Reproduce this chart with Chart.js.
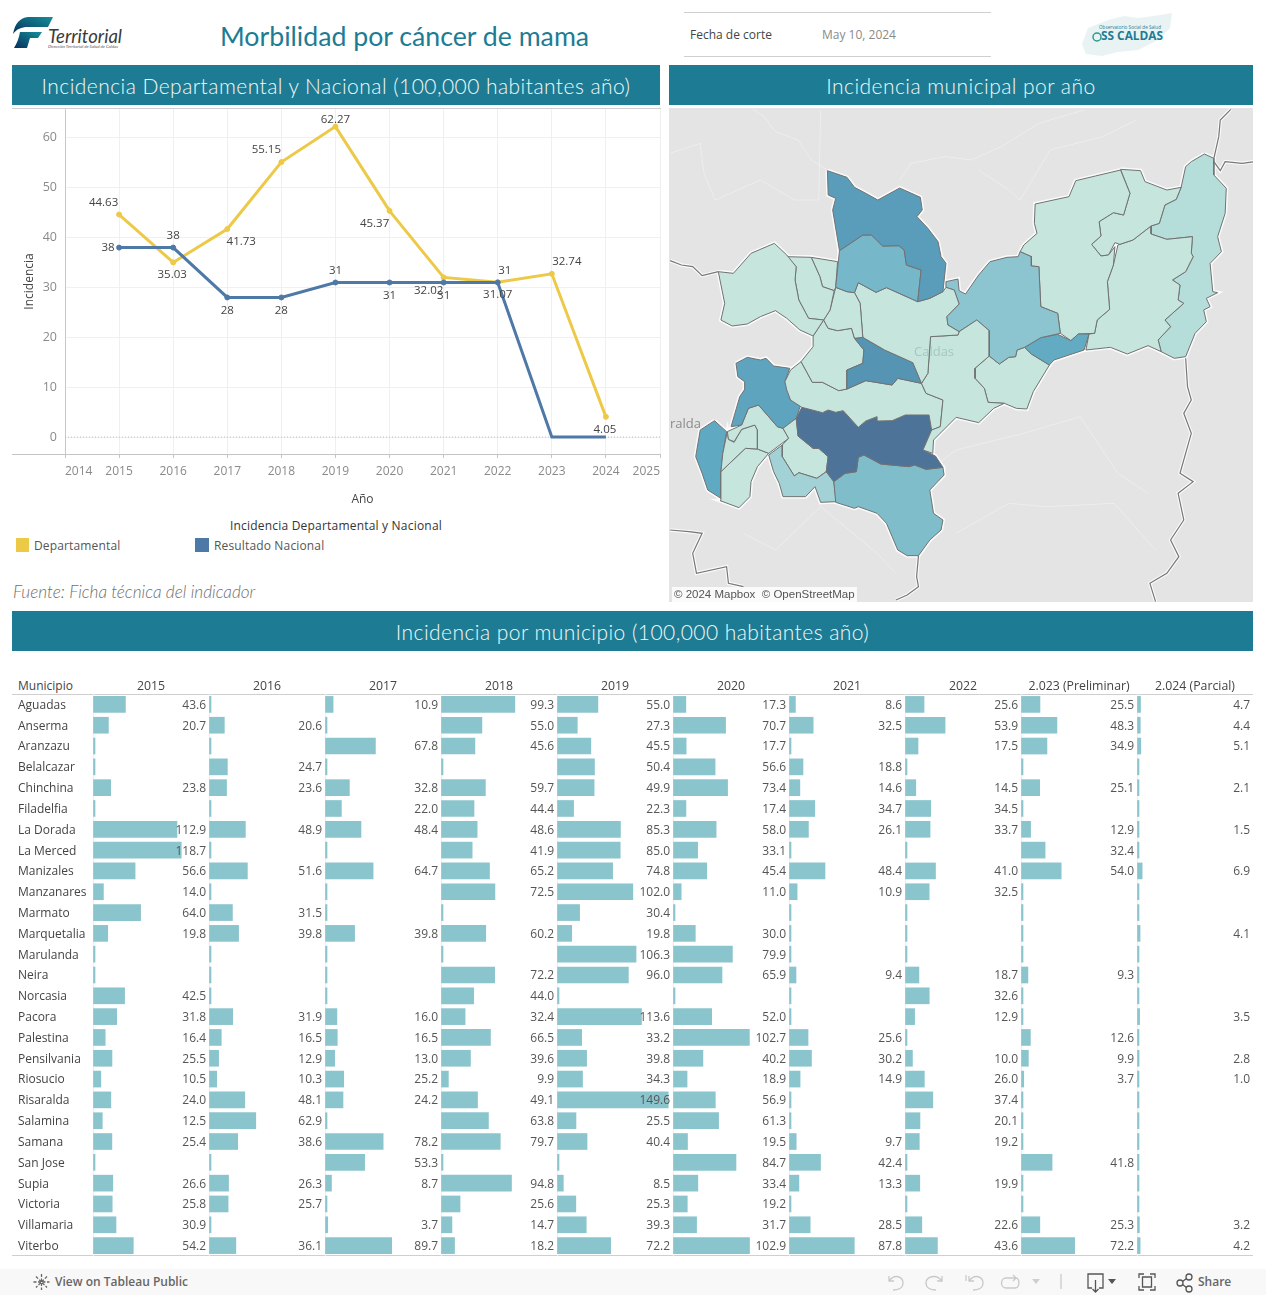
<!DOCTYPE html>
<html lang="es">
<head>
<meta charset="utf-8">
<title>Morbilidad por cáncer de mama</title>
<script src="https://cdn.jsdelivr.net/npm/chart.js@4"></script>
<style>
    html, body { margin: 0; padding: 0; background: #fff; }
    body { position: relative; width: 1266px; height: 1295px; overflow: hidden; font-family: "Open Sans", sans-serif; color: #555; }
    .abs { position: absolute; white-space: nowrap; }
    canvas { position: absolute; display: block; }
    .banda { position: absolute; background: #1d7c93; color: #f4f8f9; text-align: center; font-family: Lato, sans-serif; font-weight: 300; font-size: 21px; line-height: 42px; height: 40px; letter-spacing: 0.45px; }
    .linea { position: absolute; background: #cfcfcf; height: 1px; }
</style>
</head>
<body>

<!-- Encabezado -->
<svg class="abs" style="left:12px;top:14px" width="116" height="38" viewBox="0 0 116 38">
    <defs><linearGradient id="gradT" x1="0" x2="1" y1="1" y2="0"><stop offset="0" stop-color="#06305c"/><stop offset="1" stop-color="#16909a"/></linearGradient></defs>
    <path d="M1 20 C3 9 8 4 16 3 L41 3 L36 13 L16 13 C9 13 5 15 1 20 Z" fill="url(#gradT)"/>
    <path d="M8 18 L30 18 L26 24 L18 24 L15 34 L2 34 C5 29 7 24 8 18 Z" fill="url(#gradT)"/>
    <text x="36" y="29" font-family="Lato" font-style="italic" font-size="20" fill="#3a3a3a" textLength="74" lengthAdjust="spacingAndGlyphs">Territorial</text>
    <text x="36" y="34" font-family="Lato" font-style="italic" font-size="4" fill="#555" textLength="70" lengthAdjust="spacingAndGlyphs">Dirección Territorial de Salud de Caldas</text>
</svg>
<div class="abs" id="titulo" style="left:220px;top:18px;font-family:Lato,sans-serif;font-size:26.7px;line-height:36px;color:#1d7c93">Morbilidad por cáncer de mama</div>

<div class="linea" style="left:684px;top:12px;width:307px"></div>
<div class="linea" style="left:684px;top:56px;width:307px"></div>
<div class="abs" style="left:690px;top:27px;font-size:12px;line-height:16px;color:#444">Fecha de corte</div>
<div class="abs" style="left:822px;top:27px;font-size:12px;line-height:16px;color:#8a8a8a">May 10, 2024</div>

<svg class="abs" style="left:1078px;top:10px" width="100" height="50" viewBox="0 0 100 50">
    <path d="M4 34 L10 18 L30 10 L46 6 L60 8 L76 6 L94 3 L92 18 L80 30 L60 40 L40 42 L24 46 L8 44 Z" fill="#e9f3f3"/>
    <text x="21" y="19" font-family="Open Sans" font-size="5.2" fill="#1d7c93" textLength="62" lengthAdjust="spacingAndGlyphs">Observatorio Social de Salud</text>
    <circle cx="19" cy="27" r="4" fill="none" stroke="#2a9a8f" stroke-width="1.5"/>
    <text x="23" y="30" font-family="Open Sans" font-weight="700" font-size="13" fill="#1d7c93" textLength="62" lengthAdjust="spacingAndGlyphs">SS CALDAS</text>
</svg>

<div class="banda" style="left:12px;top:65px;width:648px">Incidencia Departamental y Nacional (100,000 habitantes año)</div>
<div class="banda" style="left:669px;top:65px;width:584px">Incidencia municipal por año</div>
<div class="banda" style="left:12px;top:611px;width:1241px">Incidencia por municipio (100,000 habitantes año)</div>

<!-- Grafico de lineas -->
<div class="linea" style="left:12px;top:108px;width:649px"></div>
<div class="linea" style="left:12px;top:454px;width:649px;background:#c4c4c4"></div>
<canvas id="grafico-lineas" style="left:12px;top:104px"></canvas>

<div class="abs" style="left:230px;top:518px;font-size:12px;line-height:16px;letter-spacing:.2px;color:#333">Incidencia Departamental y Nacional</div>
<div class="abs" style="left:16px;top:538px;width:13px;height:14px;background:#edc948"></div>
<div class="abs" style="left:34px;top:538px;font-size:12px;line-height:16px;letter-spacing:.15px;color:#555">Departamental</div>
<div class="abs" style="left:195px;top:538px;width:14px;height:14px;background:#4e79a7"></div>
<div class="abs" style="left:214px;top:538px;font-size:12px;line-height:16px;letter-spacing:.15px;color:#555">Resultado Nacional</div>
<div class="abs" style="left:13px;top:582px;font-family:Lato,sans-serif;font-style:italic;font-weight:300;font-size:17.2px;line-height:20px;color:#6f6f6f">Fuente: Ficha técnica del indicador</div>

<!-- Mapa -->
<div class="abs" style="left:669px;top:108px;width:584px;height:494px;background:#e4e4e4"></div>
<canvas id="grafico-mapa" style="left:669px;top:108px"></canvas>
<div class="abs" style="left:914px;top:343px;font-size:13px;line-height:16px;color:rgba(140,175,165,.55)">Caldas</div>
<div class="abs" style="left:670px;top:415px;font-size:13px;line-height:16px;color:#8c8c8c">ralda</div>
<div class="abs" style="left:672px;top:587px;padding:0 2px;font-family:'Liberation Sans',sans-serif;font-size:11.5px;line-height:15px;color:#555;background:rgba(255,255,255,.8)">© 2024 Mapbox&nbsp; © OpenStreetMap</div>

<!-- Tabla de barras -->
<div class="abs" style="left:18px;top:678px;font-size:12px;line-height:16px;color:#444">Municipio</div>
<div class="linea" style="left:12px;top:694px;width:1241px"></div>
<div class="linea" style="left:12px;top:1255px;width:1241px"></div>
<canvas id="grafico-tabla" style="left:0;top:676px"></canvas>

<!-- Barra inferior -->
<div class="abs" style="left:0;top:1269px;width:1266px;height:26px;background:#f8f8f8"></div>
<svg class="abs" style="left:0;top:1269px" width="1266" height="26" viewBox="0 0 1266 26" fill="none" stroke-width="1.3">
    <g stroke="#666"><path d="M41.500 5 V21 M33.500 13 H49.500 M36 7.500 L47 18.500 M47 7.500 L36 18.500" stroke-dasharray="3 1.500"/></g>
    <g stroke="#c9c9c9">
        <path d="M889 7 V12 H894 M889 12 C895 4 903 8 903 14 C903 19 898 21 893 21"/>
        <path d="M942 7 V12 H937 M942 12 C936 4 926 8 926 14 C926 19 931 21 936 21"/>
        <path d="M966 6 V12 M969 7 V12 H974 M969 12 C975 4 983 8 983 14 C983 19 978 21 973 21"/>
        <path d="M1016 9 H1006 C1000 9 1000 19 1006 19 H1015 C1020 19 1020 9 1016 9 M1013 6 L1016 9 L1013 12"/>
        <path d="M1061 5 V20"/>
    </g>
    <path d="M1032 10 H1040 L1036 15 Z" fill="#cfcfcf"/>
    <g stroke="#555">
        <path d="M1092 19 H1088 V5 H1103 V19 H1099 M1095.500 11 V23 M1092.500 20 L1095.500 23 L1098.500 20"/>
        <path d="M1139 9 V5 H1144 M1150 5 H1155 V9 M1155 17 V21 H1150 M1144 21 H1139 V17 M1142.500 8 H1151.500 V18 H1142.500 Z"/>
        <circle cx="1180" cy="14" r="3"/><circle cx="1189" cy="8" r="3"/><circle cx="1189" cy="20" r="3"/>
        <path d="M1182.500 12.500 L1186.500 9.500 M1182.500 15.500 L1186.500 18.500"/>
    </g>
    <path d="M1108 10 H1116 L1112 15 Z" fill="#555"/>
</svg>
<div class="abs" style="left:55px;top:1274px;font-size:12px;line-height:16px;font-weight:600;color:#666">View on Tableau Public</div>
<div class="abs" style="left:1198px;top:1274px;font-size:12px;line-height:16px;font-weight:600;color:#666">Share</div>

<script>
// Datos del grafico de lineas
const anios = [2015, 2016, 2017, 2018, 2019, 2020, 2021, 2022, 2023, 2024];
const departamental = [44.63, 35.03, 41.73, 55.15, 62.27, 45.37, 32.02, 31.07, 32.74, 4.05];
const nacional = [38, 38, 28, 28, 31, 31, 31, 31, 0, 0];
const ticks_anio = [2014, 2015, 2016, 2017, 2018, 2019, 2020, 2021, 2022, 2023, 2024, 2025];
const ticks_incidencia = [0, 10, 20, 30, 40, 50, 60];
const nacional_con_etiqueta = [38, 38, 28, 28, 31, 31, 31, 31, null, null];

// Desplazamiento de cada etiqueta respecto a su punto
const desp_departamental = [[-15.5, -12], [-1, 12], [14, 13], [-15, -12], [0, -7], [-15, 13], [-15, 13], [0, 12.5], [15, -12], [-1, 13]];
const desp_nacional = [[-11, 0], [0, -12], [0, 13], [0, 13], [0, -12], [0, 13], [0, 13], [7, -12], [0, 0], [0, 0]];

// Datos de la tabla
const municipios = ["Aguadas", "Anserma", "Aranzazu", "Belalcazar", "Chinchina", "Filadelfia", "La Dorada", "La Merced", "Manizales", "Manzanares", "Marmato", "Marquetalia", "Marulanda", "Neira", "Norcasia", "Pacora", "Palestina", "Pensilvania", "Riosucio", "Risaralda", "Salamina", "Samana", "San Jose", "Supia", "Victoria", "Villamaria", "Viterbo"];
const columnas = ["2015", "2016", "2017", "2018", "2019", "2020", "2021", "2022", "2.023 (Preliminar)", "2.024 (Parcial)"];
const inc_2015 = [43.6, 20.7, null, null, 23.8, null, 112.9, 118.7, 56.6, 14.0, 64.0, 19.8, null, null, 42.5, 31.8, 16.4, 25.5, 10.5, 24.0, 12.5, 25.4, null, 26.6, 25.8, 30.9, 54.2];
const inc_2016 = [null, 20.6, null, 24.7, 23.6, null, 48.9, null, 51.6, null, 31.5, 39.8, null, null, null, 31.9, 16.5, 12.9, 10.3, 48.1, 62.9, 38.6, null, 26.3, 25.7, null, 36.1];
const inc_2017 = [10.9, null, 67.8, null, 32.8, 22.0, 48.4, null, 64.7, null, null, 39.8, null, null, null, 16.0, 16.5, 13.0, 25.2, 24.2, null, 78.2, 53.3, 8.7, null, 3.7, 89.7];
const inc_2018 = [99.3, 55.0, 45.6, null, 59.7, 44.4, 48.6, 41.9, 65.2, 72.5, null, 60.2, null, 72.2, 44.0, 32.4, 66.5, 39.6, 9.9, 49.1, 63.8, 79.7, null, 94.8, 25.6, 14.7, 18.2];
const inc_2019 = [55.0, 27.3, 45.5, 50.4, 49.9, 22.3, 85.3, 85.0, 74.8, 102.0, 30.4, 19.8, 106.3, 96.0, null, 113.6, 33.2, 39.8, 34.3, 149.6, 25.5, 40.4, null, 8.5, 25.3, 39.3, 72.2];
const inc_2020 = [17.3, 70.7, 17.7, 56.6, 73.4, 17.4, 58.0, 33.1, 45.4, 11.0, null, 30.0, 79.9, 65.9, null, 52.0, 102.7, 40.2, 18.9, 56.9, 61.3, 19.5, 84.7, 33.4, 19.2, 31.7, 102.9];
const inc_2021 = [8.6, 32.5, null, 18.8, 14.6, 34.7, 26.1, null, 48.4, 10.9, null, null, null, 9.4, null, null, 25.6, 30.2, 14.9, null, null, 9.7, 42.4, 13.3, null, 28.5, 87.8];
const inc_2022 = [25.6, 53.9, 17.5, null, 14.5, 34.5, 33.7, null, 41.0, 32.5, null, null, null, 18.7, 32.6, 12.9, null, 10.0, 26.0, 37.4, 20.1, 19.2, null, 19.9, null, 22.6, 43.6];
const inc_2023 = [25.5, 48.3, 34.9, null, 25.1, null, 12.9, 32.4, 54.0, null, null, null, null, 9.3, null, null, 12.6, 9.9, 3.7, null, null, null, 41.8, null, null, 25.3, 72.2];
const inc_2024 = [4.7, 4.4, 5.1, null, 2.1, null, 1.5, null, 6.9, null, null, 4.1, null, null, null, 3.5, null, 2.8, 1.0, null, null, null, null, null, null, 3.2, 4.2];
const series_tabla = [inc_2015, inc_2016, inc_2017, inc_2018, inc_2019, inc_2020, inc_2021, inc_2022, inc_2023, inc_2024];

// Contornos del mapa, en unidades propias del mapa
const contornos = {
    "Aguadas": [[418,212],[470,232],[490,262],[520,280],[552,300],[610,264],[665,292],[670,330],[656,350],[685,385],[712,425],[720,470],[733,490],[725,575],[690,595],[658,605],[667,510],[628,495],[622,450],[608,437],[565,438],[535,405],[512,405],[450,452],[432,330],[440,295],[420,285]],
    "Pacora": [[450,452],[512,405],[535,405],[565,438],[608,437],[622,450],[628,495],[667,510],[658,605],[575,563],[547,577],[500,548],[490,578],[470,575],[440,562]],
    "Riosucio": [[128,515],[168,520],[215,460],[277,430],[310,465],[335,500],[332,540],[342,600],[368,655],[408,660],[380,708],[345,690],[310,655],[280,632],[240,650],[205,672],[165,678],[135,660],[145,610]],
    "Supia": [[310,470],[375,472],[398,530],[405,560],[436,572],[425,630],[408,660],[368,655],[342,600],[332,540],[335,500]],
    "Marmato": [[375,472],[445,485],[440,562],[436,572],[405,560],[398,530]],
    "La Merced": [[440,562],[470,575],[490,578],[505,610],[512,712],[490,715],[482,685],[445,692],[420,685],[408,660],[425,630]],
    "Salamina": [[490,578],[500,548],[547,577],[575,563],[658,605],[690,595],[725,575],[733,562],[755,570],[768,612],[735,650],[738,675],[768,695],[765,705],[692,710],[685,820],[668,850],[645,788],[570,750],[512,712],[505,610]],
    "Aranzazu": [[490,715],[512,712],[570,750],[645,788],[668,850],[605,835],[590,855],[520,842],[470,867],[470,810],[512,790],[515,750]],
    "Filadelfia": [[380,708],[408,660],[420,685],[445,692],[482,685],[490,715],[515,750],[512,790],[470,810],[470,867],[448,872],[405,847],[378,847],[348,785],[380,740]],
    "Marulanda": [[692,710],[765,705],[768,695],[815,660],[848,692],[848,768],[810,805],[810,835],[835,865],[845,907],[888,910],[860,925],[820,968],[760,952],[700,1020],[698,1060],[672,1050],[695,990],[718,980],[725,900],[680,880],[668,850],[685,820]],
    "Neira": [[348,785],[378,847],[405,847],[448,872],[470,867],[520,842],[590,855],[605,835],[668,850],[680,880],[725,900],[718,980],[695,990],[688,945],[625,945],[590,962],[552,963],[550,950],[520,963],[500,982],[460,932],[440,937],[420,930],[405,938],[350,922],[320,900],[310,870],[305,845],[320,810]],
    "Manizales": [[350,922],[405,938],[420,930],[440,937],[460,932],[500,982],[520,963],[550,950],[552,963],[590,962],[625,945],[688,945],[695,990],[672,1050],[705,1068],[725,1102],[680,1108],[650,1095],[635,1100],[560,1092],[515,1065],[500,1072],[495,1115],[465,1120],[435,1145],[415,1115],[420,1070],[395,1045],[380,1045],[340,1008],[335,955]],
    "Villamaria": [[515,1065],[560,1092],[635,1100],[650,1095],[680,1108],[725,1102],[728,1125],[690,1170],[700,1240],[725,1260],[720,1290],[690,1320],[660,1367],[630,1367],[605,1350],[590,1310],[575,1270],[550,1240],[500,1220],[490,1225],[440,1207],[435,1145],[465,1120],[495,1115],[500,1072]],
    "Chinchina": [[262,1065],[298,1035],[298,1070],[330,1128],[342,1118],[390,1135],[415,1115],[435,1145],[442,1205],[400,1207],[385,1160],[360,1190],[300,1190],[290,1150],[275,1115]],
    "Palestina": [[298,1035],[315,1015],[300,985],[335,955],[340,1008],[380,1045],[395,1045],[420,1070],[415,1115],[390,1135],[342,1118],[330,1128],[298,1070]],
    "Anserma": [[175,790],[205,772],[240,780],[255,775],[275,798],[318,805],[305,845],[320,900],[350,905],[335,955],[300,985],[285,980],[235,915],[208,925],[190,975],[162,980],[185,890],[197,870],[198,845],[180,830]],
    "Risaralda": [[208,925],[235,915],[285,980],[300,985],[315,1015],[262,1060],[232,1047],[232,990],[225,975],[190,988],[170,1025],[155,1018],[152,995],[190,975]],
    "San Jose": [[155,1018],[170,1027],[190,988],[225,975],[232,990],[232,1047],[200,1045],[135,1115],[140,1060],[152,995]],
    "Belalcazar": [[135,1115],[200,1045],[232,1047],[262,1060],[232,1100],[215,1145],[212,1190],[183,1223],[133,1202],[135,1190]],
    "Viterbo": [[118,962],[150,995],[140,1060],[135,1115],[135,1195],[100,1170],[85,1120],[68,1070],[80,990]],
    "Pensilvania": [[930,455],[960,470],[960,498],[980,500],[985,620],[1030,640],[1037,700],[985,713],[942,742],[922,750],[918,770],[900,772],[875,792],[848,768],[848,692],[815,660],[768,695],[738,675],[735,650],[768,612],[755,570],[733,562],[733,545],[765,537],[768,572],[785,582],[820,525],[850,485],[895,472],[925,470]],
    "Marquetalia": [[942,742],[985,713],[1030,703],[1065,722],[1085,702],[1113,702],[1100,750],[1060,765],[1020,780],[1008,795],[960,762]],
    "Manzanares": [[848,768],[810,805],[810,835],[835,865],[845,907],[888,910],[920,925],[948,927],[965,875],[1008,795],[960,762],[942,742],[922,750],[918,770],[900,772],[875,792]],
    "Samana": [[930,455],[960,470],[960,498],[980,500],[985,620],[1030,640],[1037,700],[1065,722],[1085,702],[1128,700],[1135,660],[1168,628],[1162,545],[1178,495],[1182,440],[1165,465],[1145,468],[1120,433],[1145,408],[1140,365],[1178,338],[1205,345],[1222,280],[1197,210],[1130,228],[1078,242],[1060,290],[970,312],[968,370],[975,400],[940,435]],
    "Norcasia": [[1197,208],[1250,212],[1262,245],[1320,270],[1358,262],[1345,298],[1315,315],[1300,370],[1278,378],[1230,420],[1195,433],[1182,428],[1165,465],[1145,468],[1120,433],[1145,408],[1140,365],[1178,338],[1205,345],[1222,280]],
    "Victoria": [[1278,378],[1278,402],[1320,418],[1388,410],[1385,460],[1390,470],[1370,515],[1335,540],[1355,555],[1350,600],[1365,610],[1315,660],[1330,680],[1297,720],[1305,755],[1270,737],[1215,762],[1170,742],[1105,750],[1113,702],[1128,700],[1135,660],[1168,628],[1162,545],[1178,495],[1190,435],[1230,420]],
    "La Dorada": [[1420,162],[1445,175],[1445,225],[1478,265],[1475,340],[1455,410],[1465,455],[1435,490],[1442,575],[1455,578],[1425,595],[1435,620],[1418,630],[1425,665],[1395,700],[1370,770],[1340,775],[1305,755],[1297,720],[1330,680],[1315,660],[1365,610],[1350,600],[1355,555],[1335,540],[1370,515],[1390,470],[1385,460],[1388,410],[1320,418],[1278,402],[1278,378],[1300,370],[1315,315],[1345,298],[1358,262],[1370,200],[1385,185]]
};

// Limites y rios que salen del departamento
const limites = [
    [[0,482],[30,495],[60,500],[85,527],[128,515]],
    [[1490,28],[1462,60],[1458,110],[1445,175]],
    [[1445,185],[1462,212],[1475,185],[1520,190],[1552,185]],
    [[660,1367],[655,1430],[660,1460],[630,1485],[600,1500]],
    [[1370,775],[1375,860],[1385,900],[1365,940],[1385,1000],[1355,1120],[1390,1145],[1350,1180],[1365,1260],[1330,1320],[1352,1370],[1320,1420],[1275,1450],[1290,1505]],
    [[0,1290],[50,1295],[85,1300],[60,1360],[70,1420],[150,1400],[155,1450],[195,1460]]
];
const rios = [
    [[220,28],[250,50],[280,95],[340,120],[375,180],[420,212]],
    [[0,160],[80,130],[90,220],[120,300],[240,240],[330,300],[395,300],[400,30]],
    [[610,240],[640,190],[730,170],[800,180],[880,140],[980,70],[1100,30]],
    [[820,210],[900,270],[930,300],[1010,150],[1150,110],[1240,60]],
    [[700,1100],[760,1050],[940,1000],[1090,950],[1190,1120],[1270,1180]],
    [[760,1300],[900,1210],[1000,1220],[1180,1210],[1290,1350]],
    [[195,1300],[280,1350],[400,1220],[550,1360],[600,1420]]
];

// Escala de color del mapa: incidencia 2024 -> color
const escala_valor = [0, 1, 1.5, 2.8, 4.2, 5.1, 6.9];
const escala_color = [[197, 229, 221], [197, 229, 221], [181, 222, 218], [140, 197, 207], [96, 169, 194], [86, 148, 179], [78, 115, 153]];

const fuente = "'Open Sans', sans-serif";

function color_municipio(nombre) {
    const valor = inc_2024[municipios.indexOf(nombre)];
    if (valor === null) return "rgb(197,229,221)";
    const i = escala_valor.findIndex(v => valor <= v);
    const t = (valor - escala_valor[i - 1]) / (escala_valor[i] - escala_valor[i - 1]);
    const rgb = escala_color[i].map((c, k) => Math.round(escala_color[i - 1][k] + (c - escala_color[i - 1][k]) * t));
    return "rgb(" + rgb.join(",") + ")";
}

function crearLienzo(id, ancho, alto) {
    const lienzo = document.getElementById(id);
    lienzo.width = ancho;
    lienzo.height = alto;
    lienzo.style.width = ancho + "px";
    lienzo.style.height = alto + "px";
    return lienzo.getContext("2d");
}

// Etiquetas y linea punteada del cero en el grafico de lineas
const etiquetasLineas = {
    id: "etiquetasLineas",
    beforeDatasetsDraw(chart) {
        const { ctx, chartArea, scales } = chart;
        const y0 = scales.y.getPixelForValue(0);
        ctx.save();
        ctx.strokeStyle = "#bdbdbd";
        ctx.setLineDash([1, 2]);
        ctx.beginPath();
        ctx.moveTo(chartArea.left, y0);
        ctx.lineTo(chartArea.right, y0);
        ctx.stroke();
        ctx.restore();
    },
    afterDatasetsDraw(chart) {
        const { ctx, scales } = chart;
        ctx.save();
        ctx.font = "11.5px " + fuente;
        ctx.fillStyle = "#444";
        ctx.textAlign = "center";
        ctx.textBaseline = "middle";
        anios.forEach((anio, i) => {
            if (nacional_con_etiqueta[i] !== null) {
                ctx.fillText(String(nacional[i]), scales.x.getPixelForValue(anio) + desp_nacional[i][0], scales.y.getPixelForValue(nacional[i]) + desp_nacional[i][1]);
            }
            ctx.fillText(String(departamental[i]), scales.x.getPixelForValue(anio) + desp_departamental[i][0], scales.y.getPixelForValue(departamental[i]) + desp_departamental[i][1]);
        });
        ctx.restore();
    }
};

// Quita el margen que Chart.js reserva para la primera y ultima etiqueta
function sinMargenes(scale) {
    scale.paddingTop = 0;
    scale.paddingBottom = 0;
    scale.paddingLeft = 0;
    scale.paddingRight = 0;
}

function crearGraficoLineas() {
    const ctx = crearLienzo("grafico-lineas", 653, 406);
    const a_puntos = serie => anios.map((anio, i) => ({ x: anio, y: serie[i] }));
    new Chart(ctx, {
        type: "scatter",
        data: {
            datasets: [
                {
                    label: "Resultado Nacional", data: a_puntos(nacional), showLine: true, borderColor: "#4e79a7", backgroundColor: "#4e79a7", borderWidth: 3,
                    pointRadius: c => (nacional_con_etiqueta[c.dataIndex] === null ? 0 : 2.5), pointBorderWidth: 1, order: 1
                },
                { label: "Departamental", data: a_puntos(departamental), showLine: true, borderColor: "#edc948", backgroundColor: "#edc948", borderWidth: 3, pointRadius: 2.5, pointBorderWidth: 1, order: 2 }
            ]
        },
        options: {
            responsive: false,
            animation: false,
            events: [],
            layout: { padding: 0 },
            plugins: { legend: { display: false }, tooltip: { enabled: false } },
            scales: {
                x: {
                    type: "linear", min: 2014, max: 2025,
                    afterBuildTicks: scale => { scale.ticks = ticks_anio.map(v => ({ value: v })); },
                    afterFit: scale => { scale.height = 56; sinMargenes(scale); },
                    grid: { color: "#f0f0f0", tickLength: 4, tickColor: "#c4c4c4" },
                    border: { display: false },
                    ticks: { callback: v => String(v), color: "#8a8a8a", font: { family: fuente, size: 12 }, autoSkip: false, maxRotation: 0, align: "inner", padding: 6 },
                    title: { display: true, text: "Año", color: "#444", font: { family: fuente, size: 12 }, padding: { top: 8, bottom: 3 } }
                },
                y: {
                    min: -3.4, max: 65.8,
                    afterBuildTicks: scale => { scale.ticks = ticks_incidencia.map(v => ({ value: v })); },
                    afterFit: scale => { scale.width = 53; sinMargenes(scale); },
                    grid: { color: "#f0f0f0", drawTicks: false },
                    border: { color: "#c8c8c8" },
                    ticks: { color: "#8a8a8a", font: { family: fuente, size: 12.5 }, padding: 8 },
                    title: { display: true, text: "Incidencia", color: "#444", font: { family: fuente, size: 12 }, padding: { top: 10, bottom: 0 } }
                }
            }
        },
        plugins: [etiquetasLineas]
    });
}

function crearGraficoMapa() {
    const ctx = crearLienzo("grafico-mapa", 584, 494);
    const nombres = Object.keys(contornos);
    const a_puntos = lista => lista.map(p => ({ x: p[0], y: p[1] }));
    const cerrar = lista => a_puntos(lista.concat([lista[0]]));
    const linea = (lista, color, ancho) => ({ data: a_puntos(lista), showLine: true, fill: false, borderColor: color, borderWidth: ancho, pointRadius: 0, tension: 0 });

    const datasets = [];
    // Se dibuja primero lo de encima: Chart.js pinta el ultimo dataset abajo
    nombres.forEach(nombre => {
        datasets.push({ label: nombre, data: cerrar(contornos[nombre]), showLine: true, fill: "shape", backgroundColor: color_municipio(nombre), borderColor: "#717171", borderWidth: 1, pointRadius: 0, tension: 0 });
    });
    limites.forEach(lista => datasets.push(linea(lista, "#777", 1.2)));
    limites.forEach(lista => datasets.push(linea(lista, "rgba(255,255,255,.8)", 3.5)));
    nombres.forEach(nombre => datasets.push(linea(contornos[nombre].concat([contornos[nombre][0]]), "rgba(255,255,255,.8)", 4)));
    rios.forEach(lista => datasets.push(linea(lista, "rgba(255,255,255,.35)", 1)));

    new Chart(ctx, {
        type: "scatter",
        data: { datasets: datasets },
        options: {
            responsive: false,
            animation: false,
            events: [],
            layout: { padding: 0 },
            plugins: { legend: { display: false }, tooltip: { enabled: false } },
            scales: {
                x: { type: "linear", display: false, min: -3, max: 1549 },
                y: { type: "linear", display: false, reverse: true, min: 24, max: 1506 }
            }
        }
    });
}

// Valores escritos al final de cada columna
const etiquetasTabla = {
    id: "etiquetasTabla",
    afterDatasetsDraw(chart) {
        const { ctx, scales } = chart;
        ctx.save();
        ctx.font = "12px " + fuente;
        ctx.fillStyle = "#555";
        ctx.textAlign = "right";
        ctx.textBaseline = "middle";
        series_tabla.forEach((serie, c) => {
            const escala = scales["x" + c];
            serie.forEach((valor, f) => {
                if (valor !== null) {
                    ctx.fillText(valor.toFixed(1), escala.right - 3, scales.y.getPixelForValue(f) + 1);
                }
            });
        });
        ctx.restore();
    }
};

function crearGraficoTabla() {
    const ctx = crearLienzo("grafico-tabla", 1266, 580);
    const escalas = {
        y: {
            type: "category", labels: municipios, offset: true,
            afterFit: scale => { scale.width = 75; sinMargenes(scale); },
            grid: { display: false }, border: { display: false },
            ticks: { autoSkip: false, crossAlign: "far", color: "#444", font: { family: fuente, size: 12 }, padding: 0, labelOffset: 1 }
        }
    };
    const datasets = [];
    // Los ejes apilados arriba se colocan de derecha a izquierda: se declaran al reves
    for (let c = columnas.length - 1; c >= 0; c--) {
        escalas["x" + c] = {
            type: "linear", position: "top", stack: "anios", min: 0, max: 156,
            afterBuildTicks: scale => { scale.ticks = [{ value: 0 }]; },
            afterFit: scale => { scale.height = 18; sinMargenes(scale); },
            grid: { color: "#efefef", drawTicks: false }, border: { display: false },
            ticks: { display: false },
            title: { display: true, text: columnas[c], color: "#444", font: { family: fuente, size: 12.3 }, padding: { top: 3, bottom: 0 } }
        };
    }
    columnas.forEach((columna, c) => {
        datasets.push({
            label: columna,
            xAxisID: "x" + c,
            // Las celdas sin dato conservan una marca minima, como en la tabla original
            data: series_tabla[c].map(v => (v === null ? 0.01 : v)),
            backgroundColor: "#8ac4cd",
            barThickness: 16,
            minBarLength: 2,
            grouped: false
        });
    });
    new Chart(ctx, {
        type: "bar",
        data: { labels: municipios, datasets: datasets },
        options: {
            indexAxis: "y",
            responsive: false,
            animation: false,
            events: [],
            layout: { padding: { left: 18, right: 13, top: 0, bottom: 0 } },
            plugins: { legend: { display: false }, tooltip: { enabled: false } },
            scales: escalas
        },
        plugins: [etiquetasTabla]
    });
}

crearGraficoLineas();
crearGraficoMapa();
crearGraficoTabla();
</script>
</body>
</html>
